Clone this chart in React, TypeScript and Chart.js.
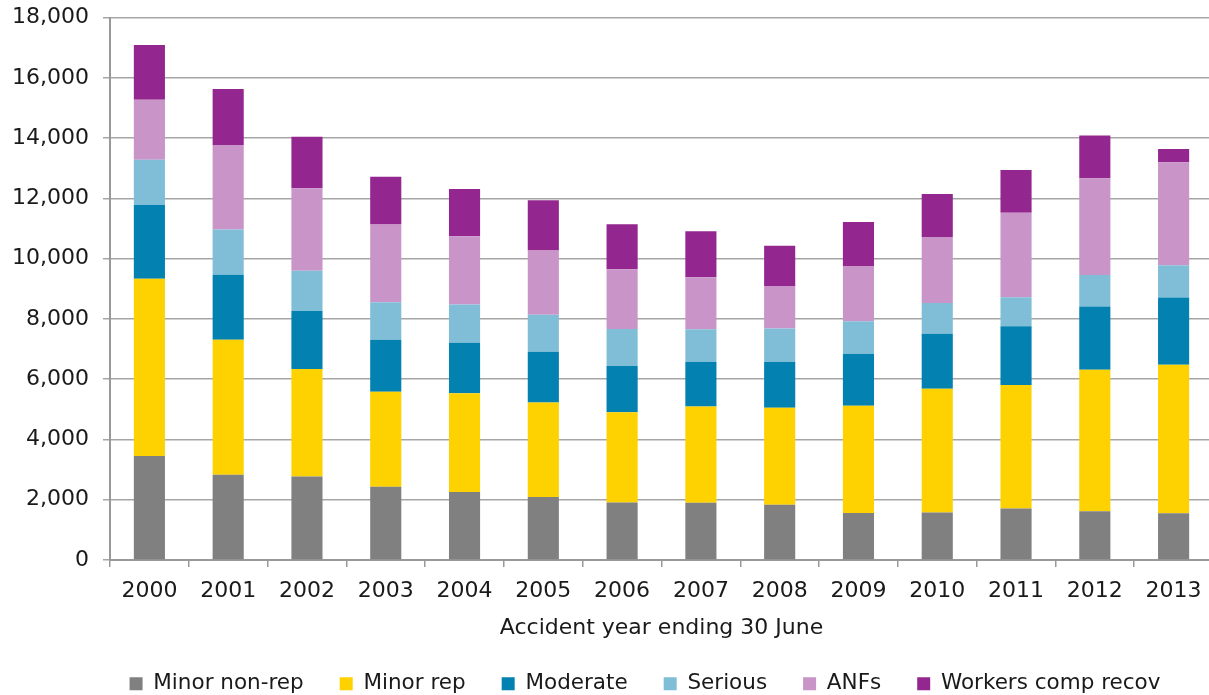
import React, { useEffect, useRef } from "react";
import { Chart, registerables } from "chart.js";

Chart.register(...registerables);

const years = ["2000","2001","2002","2003","2004","2005","2006","2007","2008","2009","2010","2011","2012","2013"];
const minorNonRep = [3450, 2830, 2770, 2430, 2260, 2090, 1910, 1900, 1830, 1560, 1580, 1710, 1620, 1550];
const minorRep    = [5880, 4480, 3570, 3150, 3270, 3140, 2990, 3190, 3220, 3560, 4100, 4100, 4690, 4930];
const moderate    = [2450, 2160, 1920, 1730, 1680, 1680, 1540, 1480, 1520, 1720, 1830, 1950, 2100, 2230];
const serious     = [1500, 1500, 1340, 1240, 1270, 1230, 1230, 1090, 1110, 1080, 1020, 960, 1050, 1070];
const anfs        = [1990, 2800, 2740, 2580, 2260, 2130, 1980, 1720, 1400, 1840, 2190, 2800, 3210, 3420];
const workersComp = [1820, 1860, 1710, 1590, 1570, 1670, 1490, 1530, 1350, 1460, 1430, 1420, 1420, 440];

const seriesNames = ["Minor non-rep", "Minor rep", "Moderate", "Serious", "ANFs", "Workers comp recov"];
const seriesData = [minorNonRep, minorRep, moderate, serious, anfs, workersComp];
const seriesColors = ["#808080", "#FDD200", "#0381B0", "#80BED7", "#C994C7", "#93278F"];

const FONT = "'DejaVu Sans', Verdana, sans-serif";

const legendTweak = {
  id: "legendTweak",
  beforeLayout(chart: any) {
    const lg = chart.legend;
    if (lg && !lg._patched) {
      const orig = lg.fit.bind(lg);
      lg.fit = function () {
        orig();
        this.height = 54;
      };
      lg._patched = true;
    }
  },
  afterLayout(chart: any) {
    const lg = chart.legend;
    if (!lg) return;
    lg.left += 34.5;
    lg.right += 34.5;
    lg.top -= 4;
    lg.bottom = chart.height;
    lg.height = lg.bottom - lg.top;
  },
};

export default function App() {
  const ref = useRef<HTMLCanvasElement | null>(null);
  useEffect(() => {
    if (!ref.current) return;
    const chart = new Chart(ref.current, {
      type: "bar",
      data: {
        labels: years,
        datasets: seriesNames.map((name, i) => ({
          label: name,
          data: seriesData[i],
          backgroundColor: seriesColors[i],
          borderWidth: 0,
          barPercentage: 0.395,
          categoryPercentage: 1,
        })),
      },
      plugins: [legendTweak],
      options: {
        responsive: false,
        animation: false,
        layout: { padding: { left: 8, right: 0, top: 17.6, bottom: 0 } },
        plugins: {
          legend: {
            position: "bottom",
            labels: {
              boxWidth: 13,
              boxHeight: 13,
              padding: 36,
              color: "#1a1a1a",
              font: { family: FONT, size: 21.5 },
            },
          },
          tooltip: { enabled: false },
        },
        scales: {
          x: {
            stacked: true,
            afterFit: (s: any) => { s.height = 81; },
            grid: { drawOnChartArea: false, drawTicks: true, tickLength: 7, color: "#999", lineWidth: 1.5 },
            border: { color: "#999", width: 2 },
            ticks: { color: "#1a1a1a", font: { family: FONT, size: 22 }, padding: 11 },
            title: {
              display: true,
              text: "Accident year ending 30 June",
              color: "#1a1a1a",
              font: { family: FONT, size: 22 },
              padding: { top: 11, bottom: 0 },
            },
          },
          y: {
            stacked: true,
            min: 0,
            max: 18000,
            afterFit: (s: any) => { s.width = 102; s.paddingTop = 0; s.paddingBottom = 0; },
            ticks: { stepSize: 2000, color: "#1a1a1a", font: { family: FONT, size: 22 }, padding: 14 },
            grid: { color: "#a6a6a6", lineWidth: 1.5, tickLength: 7, drawTicks: true },
            border: { color: "#999", width: 2 },
          },
        },
      },
    });
    return () => chart.destroy();
  }, []);
  return (
    <div style={{ position: "fixed", left: 0, top: 0, width: 1209, height: 695, overflow: "hidden", background: "#fff" }}>
      <canvas ref={ref} width={1213} height={695} style={{ display: "block", width: 1213, height: 695 }} />
    </div>
  );
}
